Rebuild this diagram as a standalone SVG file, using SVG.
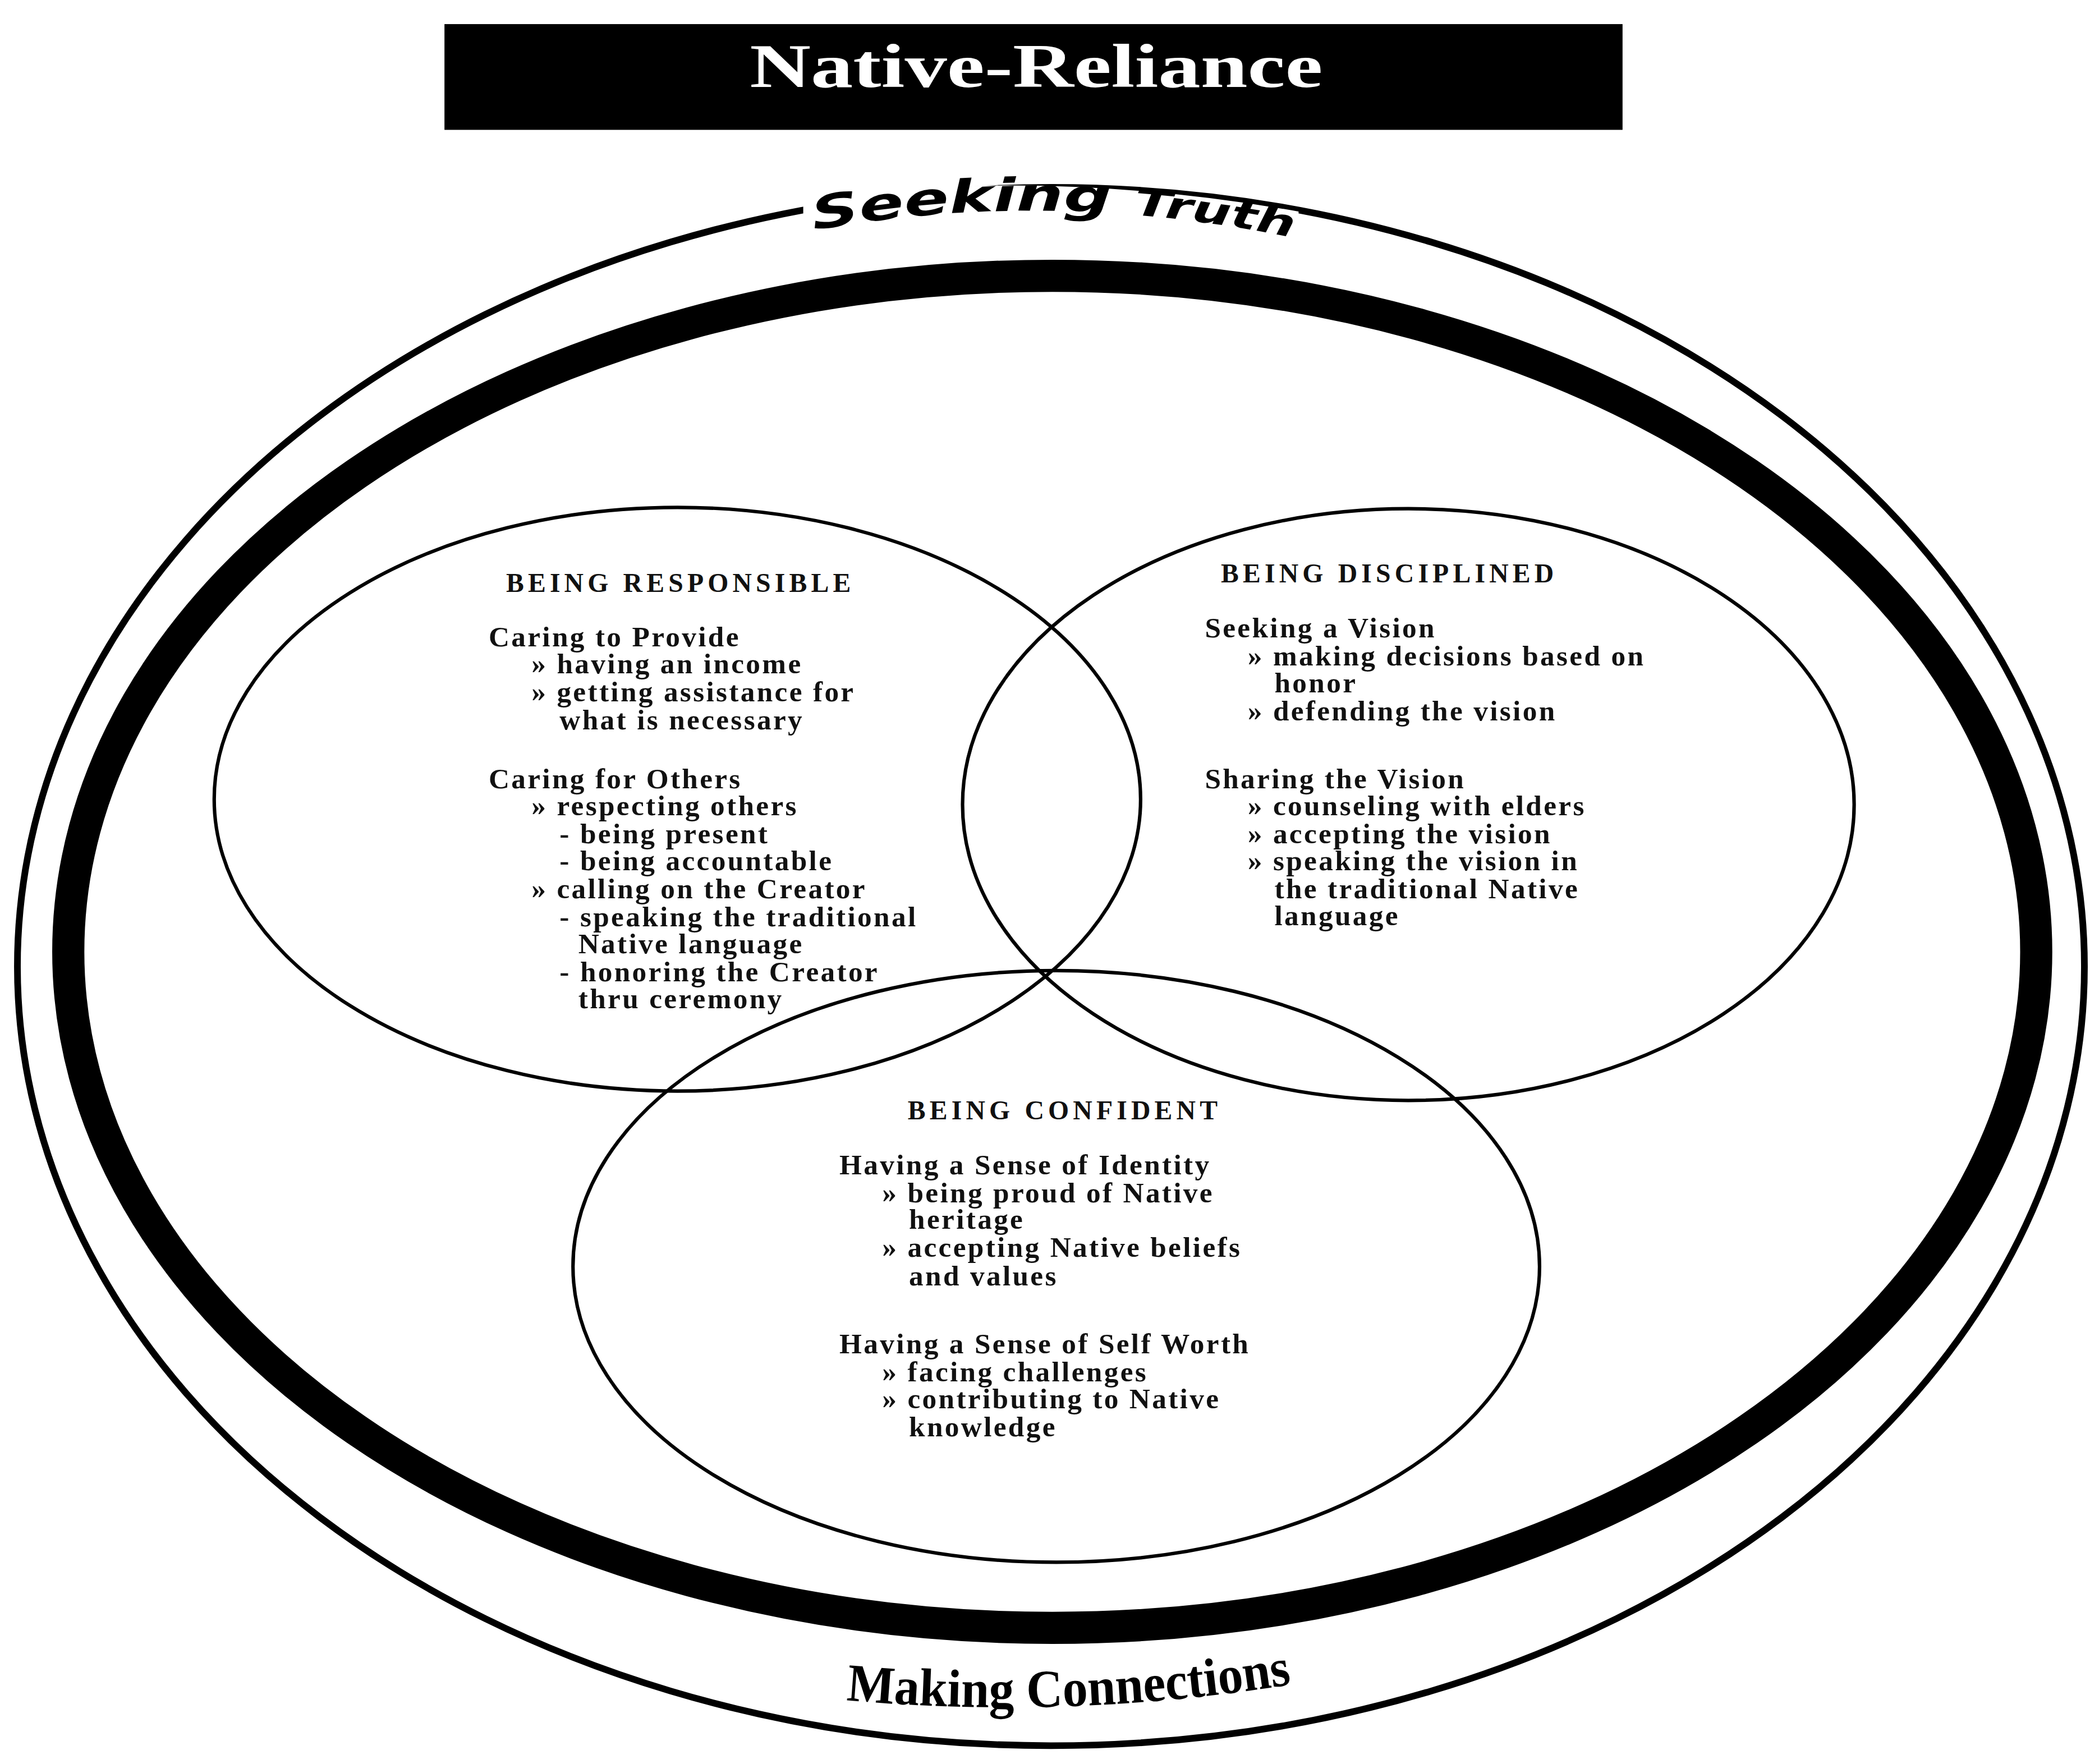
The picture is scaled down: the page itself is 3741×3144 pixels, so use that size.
<svg xmlns="http://www.w3.org/2000/svg" width="3741" height="3144" viewBox="0 0 3741 3144">
<style>
.t{font-family:"Liberation Serif",serif;font-weight:bold;font-size:21.5px;letter-spacing:1.4px;fill:#111}
.h{font-family:"Liberation Serif",serif;font-weight:bold;font-size:20px;letter-spacing:3px;fill:#111}
.c{fill:none;stroke:#000;stroke-width:2.6}
</style>
<rect width="3741" height="3144" fill="#fff"/>
<g transform="scale(2.386)">
<g id="title"><rect x="332" y="18" width="880" height="79" fill="#000"/>
<text x="560" y="65" textLength="428" lengthAdjust="spacingAndGlyphs" font-family="Liberation Serif,serif" font-weight="bold" font-size="46" fill="#fff">Native-Reliance</text></g>
<g id="outer"><ellipse cx="785" cy="722" rx="772" ry="582" fill="none" stroke="#000" stroke-width="5"/>
<ellipse cx="786" cy="711" rx="735" ry="505" fill="none" stroke="#000" stroke-width="24"/>
<path d="M600,148 Q785,125 970,158 L970,182 Q785,160 600,178 Z" fill="#fff"/>
<path id="arcTop" d="M608,172 Q785,140 968,178" fill="none"/>
<text font-family="DejaVu Sans,sans-serif" font-weight="bold" font-style="italic" font-size="34" fill="#000"><textPath href="#arcTop" textLength="360" lengthAdjust="spacingAndGlyphs">Seeking <tspan font-size="28">Truth</tspan></textPath></text>
<path d="M628,1240 Q800,1255 968,1230 L968,1282 Q800,1300 628,1285 Z" fill="#fff"/>
<path id="arcBot" d="M632,1270 Q800,1285 966,1258" fill="none"/>
<text font-family="Liberation Serif,serif" font-weight="bold" font-size="40" fill="#000"><textPath href="#arcBot" textLength="334" lengthAdjust="spacingAndGlyphs">Making Connections</textPath></text></g>
<g id="responsible"><ellipse class="c" cx="506" cy="597" rx="346" ry="218"/>
<text class="h" x="378" y="442">BEING RESPONSIBLE</text>
<text class="t" x="365" y="483">Caring to Provide</text>
<text class="t" x="397" y="503">» having an income</text>
<text class="t" x="397" y="524">» getting assistance for</text>
<text class="t" x="418" y="545">what is necessary</text>
<text class="t" x="365" y="589">Caring for Others</text>
<text class="t" x="397" y="609">» respecting others</text>
<text class="t" x="418" y="630">- being present</text>
<text class="t" x="418" y="650">- being accountable</text>
<text class="t" x="397" y="671">» calling on the Creator</text>
<text class="t" x="418" y="692">- speaking the traditional</text>
<text class="t" x="432" y="712">Native language</text>
<text class="t" x="418" y="733">- honoring the Creator</text>
<text class="t" x="432" y="753">thru ceremony</text></g>
<g id="disciplined"><ellipse class="c" cx="1052" cy="601" rx="333" ry="221"/>
<text class="h" x="912" y="435">BEING DISCIPLINED</text>
<text class="t" x="900" y="476">Seeking a Vision</text>
<text class="t" x="932" y="497">» making decisions based on</text>
<text class="t" x="952" y="517">honor</text>
<text class="t" x="932" y="538">» defending the vision</text>
<text class="t" x="900" y="589">Sharing the Vision</text>
<text class="t" x="932" y="609">» counseling with elders</text>
<text class="t" x="932" y="630">» accepting the vision</text>
<text class="t" x="932" y="650">» speaking the vision  in</text>
<text class="t" x="952" y="671">the traditional Native</text>
<text class="t" x="952" y="691">language</text></g>
<g id="confident"><ellipse class="c" cx="789" cy="946" rx="361" ry="221"/>
<text class="h" x="678" y="836">BEING CONFIDENT</text>
<text class="t" x="627" y="877">Having a Sense of Identity</text>
<text class="t" x="659" y="898">» being proud of Native</text>
<text class="t" x="679" y="918">heritage</text>
<text class="t" x="659" y="939">» accepting Native beliefs</text>
<text class="t" x="679" y="960">and values</text>
<text class="t" x="627" y="1011">Having a Sense of Self Worth</text>
<text class="t" x="659" y="1032">» facing challenges</text>
<text class="t" x="659" y="1052">» contributing to Native</text>
<text class="t" x="679" y="1073">knowledge</text></g>
<g id="connectors"/>
</g>
</svg>
